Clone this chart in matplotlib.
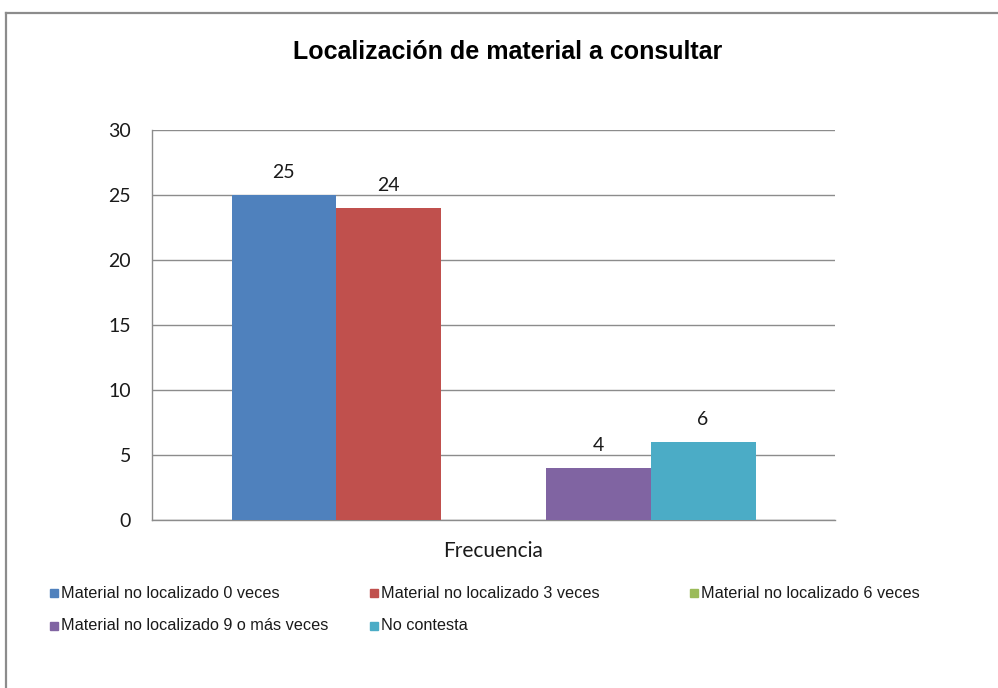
import numpy as np
import matplotlib
matplotlib.use('Agg')
import matplotlib.pyplot as plt
from matplotlib.patches import Rectangle

title = 'Localización de material a consultar'
category = 'Frecuencia'
series = ['Material no localizado 0 veces', 'Material no localizado 3 veces',
          'Material no localizado 6 veces', 'Material no localizado 9 o más veces',
          'No contesta']
values = [25, 24, 0, 4, 6]
colors = ['#4F81BD', '#C0504D', '#9BBB59', '#8064A2', '#4BACC6']
yticks = [0, 5, 10, 15, 20, 25, 30]

W, H = 998, 688
narrow = ['Liberation Sans', 'DejaVu Sans']
body = ['Lato', 'DejaVu Sans']

fig = plt.figure(figsize=(W / 100, H / 100), dpi=100)

# chart area border (only top and left visible in the reference)
fig.add_artist(plt.Line2D([6 / W, 6 / W], [0, 1 - 13 / H], transform=fig.transFigure,
                          color='#8c8c8c', lw=1.6))
fig.add_artist(plt.Line2D([6 / W, 1], [1 - 13 / H, 1 - 13 / H], transform=fig.transFigure,
                          color='#8c8c8c', lw=1.6))

ax = fig.add_axes([152 / W, (H - 520) / H, 683 / W, 390 / H])

n = len(series)
bw = 104.8 / 683
for i, (name, v, c) in enumerate(zip(series, values, colors)):
    x = (i - (n - 1) / 2) * bw
    ax.bar(x, v, width=bw, color=c, zorder=3)
    if v:
        ax.annotate(str(v), (x, v), xytext=(0, 10), textcoords='offset points',
                    ha='center', va='bottom', fontsize=14, family=body, color='#1a1a1a')

ax.set_xlim(-0.5, 0.5)
ax.set_ylim(0, 30)
ax.set_yticks(yticks)
ax.set_yticklabels([str(t) for t in yticks], family=body, fontsize=14)
ax.set_xticks([0])
ax.set_xticklabels([category], family=body, fontsize=15)
ax.tick_params(axis='y', length=0, pad=15, colors='#1a1a1a')
ax.tick_params(axis='x', length=0, pad=15, colors='#1a1a1a')
ax.grid(axis='y', color='#8c8c8c', lw=1, zorder=0)
for s in ['top', 'right']:
    ax.spines[s].set_visible(False)
for s in ['left', 'bottom']:
    ax.spines[s].set_color('#8c8c8c')
    ax.spines[s].set_linewidth(1)

fig.text(508 / W, 1 - 52 / H, title, ha='center', va='center', fontsize=18,
         fontweight='bold', family=narrow)

# legend
cols = [50, 370, 690]
rows = [593, 626]
for i, (name, c) in enumerate(zip(series, colors)):
    lx = cols[i % 3]
    ly = rows[i // 3]
    fig.add_artist(Rectangle((lx / W, (H - ly - 4) / H), 8 / W, 8 / H,
                             transform=fig.transFigure, color=c))
    fig.text((lx + 11) / W, 1 - ly / H, name, ha='left', va='center', fontsize=11.7,
             family=narrow, color='#1a1a1a')

fig.savefig('out.png', dpi=100)
